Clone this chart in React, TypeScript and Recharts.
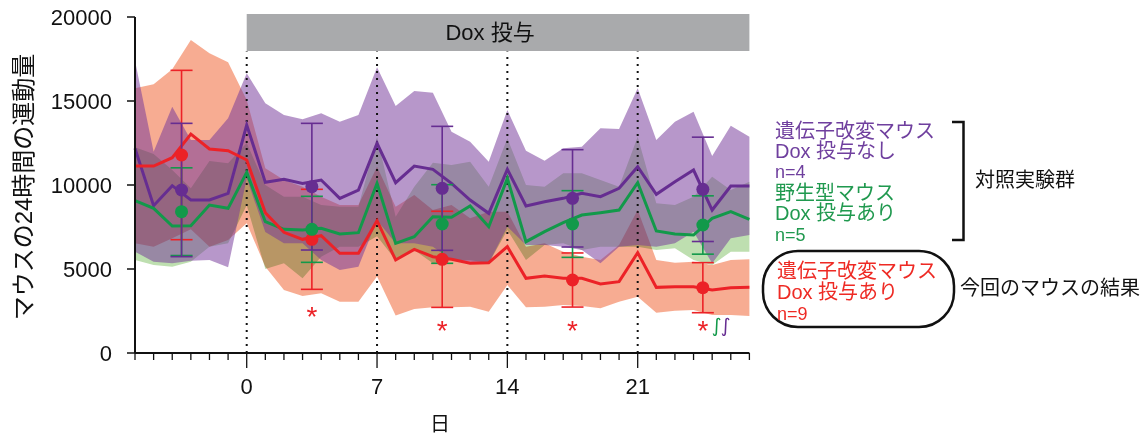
import React from 'react';
import {
  ComposedChart, Area, Line, Scatter, XAxis, YAxis, ErrorBar,
  ReferenceArea, ReferenceLine,
} from 'recharts';

// ---------- data ----------
const days = [-6, -5, -4, -3, -2, -1, 0, 1, 2, 3, 4, 5, 6, 7, 8, 9, 10, 11, 12, 13, 14, 15, 16, 17, 18, 19, 20, 21, 22, 23, 24, 25, 26, 27];

// 遺伝子改変マウス Dox 投与なし (purple)
const purpleMean = [12182, 8769, 9960, 9107, 9107, 9504, 13570, 10158, 10336, 10098, 10297, 9206, 9702, 12479, 10138, 11130, 10932, 10098, 9107, 8313, 10932, 8750, 9008, 9206, 9504, 9305, 9801, 11090, 9444, 10198, 10892, 8511, 9940, 9940];
const purpleHigh = [17400, 11984, 14662, 12678, 12678, 13967, 16646, 14860, 14166, 13908, 14265, 13769, 14166, 17003, 14702, 15595, 15495, 13174, 12579, 11388, 14463, 12043, 11448, 12182, 12281, 13372, 13332, 15753, 12678, 13769, 14364, 11726, 13531, 12876];
const purpleLow = [6032, 5435, 5337, 5495, 5535, 5099, 10396, 7200, 6527, 6527, 5535, 4940, 5139, 7900, 6527, 6527, 6329, 5535, 5435, 5337, 7520, 6428, 6428, 6329, 6131, 5337, 6329, 6427, 6329, 6527, 7222, 5337, 6825, 7024];

// 野生型マウス Dox 投与あり (green)
const greenMean = [9067, 8611, 7559, 7579, 8809, 8611, 10753, 7817, 7361, 7321, 7420, 7083, 7162, 10098, 6527, 6924, 8114, 8075, 8750, 7519, 10396, 6626, 7222, 7757, 8214, 8353, 8512, 10138, 7262, 7083, 7024, 8015, 8412, 7956];
const greenHigh = [12241, 11844, 10892, 9801, 11428, 11289, 12500, 10000, 9305, 9305, 8809, 8710, 8710, 12876, 8114, 9900, 11329, 11190, 11388, 9900, 12777, 9999, 9900, 10694, 10694, 10297, 9900, 12876, 8909, 8809, 9305, 10495, 9702, 10198];
const greenLow = [5535, 5237, 5139, 5436, 6329, 6527, 8800, 5000, 5337, 4444, 5733, 6329, 6329, 6950, 5535, 6131, 5337, 5535, 5535, 5337, 7321, 5535, 6428, 6527, 6131, 6329, 6329, 6329, 6131, 6230, 5535, 5237, 6032, 6032];

// 遺伝子改変マウス Dox 投与あり (red)
const redMean = [11130, 11130, 11626, 13035, 12142, 12043, 11487, 8353, 7182, 6766, 6984, 5932, 5932, 7877, 5535, 6170, 5733, 5575, 5337, 5376, 6329, 4444, 4583, 4444, 4444, 4107, 4246, 5972, 3908, 3948, 3948, 3750, 3888, 3908];
const redHigh = [15753, 15991, 16884, 18630, 17836, 17300, 15059, 11000, 10297, 9900, 9305, 8809, 8809, 11090, 8710, 9404, 8512, 8809, 8015, 8412, 8412, 6329, 6527, 6032, 5733, 5535, 6428, 8512, 5535, 5376, 5436, 5237, 5535, 5575];
const redLow = [6527, 6329, 6825, 7361, 6329, 6726, 7718, 5140, 3750, 3400, 3551, 3054, 3054, 4550, 2230, 2620, 2730, 2718, 2758, 2460, 4047, 2718, 2758, 2857, 2797, 2658, 3054, 3353, 2400, 2519, 2559, 2262, 2262, 2202];

// weekly means with error bars
const weekX = [-3.5, 3.5, 10.5, 17.5, 24.5];
const purpleWeekMean = [9702, 9900, 9801, 9206, 9742];
const purpleWeekErr = [3968, 3770, 3690, 2897, 3105];
const greenWeekMean = [8412, 7361, 7678, 7678, 7619];
const greenWeekErr = [2610, 1965, 2340, 1985, 1736];
const redWeekMean = [11785, 6766, 5575, 4345, 3888];
const redWeekErr = [5040, 2977, 2860, 1610, 1490];

// significance marks
const sigX = [3.5, 10.5, 17.5, 24.5];
const sigY = [2560, 1700, 1700, 1700];
const sig2X = [24.5];
const sig2Y = [1700];

const yTicks = [0, 5000, 10000, 15000, 20000];
const xLabeledDays = [0, 7, 14, 21];
const doseLines = [0, 7, 14, 21];

// ---------- styling ----------
const FONT = "'Liberation Sans', 'Noto Sans CJK JP', Arial, sans-serif";
const PURPLE = '#662d91';
const GREEN = '#12994a';
const RED = '#ec2227';
const PURPLE_TXT = '#6f3f9e';
const GREEN_TXT = '#20994f';
const RED_TXT = '#ee2a24';

const rows = days.map((d, i) => ({
  day: d,
  pBand: [purpleLow[i], purpleHigh[i]],
  gBand: [greenLow[i], greenHigh[i]],
  rBand: [redLow[i], redHigh[i]],
  pMean: purpleMean[i],
  gMean: greenMean[i],
  rMean: redMean[i],
}));

const mk = (m: number[], e: number[]) => weekX.map((x, i) => ({ day: x, y: m[i], err: e[i] }));
const purpleWeek = mk(purpleWeekMean, purpleWeekErr);
const greenWeek = mk(greenWeekMean, greenWeekErr);
const redWeek = mk(redWeekMean, redWeekErr);
const sigData = sigX.map((x, i) => ({ day: x, y: sigY[i] }));
const sig2Data = sig2X.map((x, i) => ({ day: x, y: sig2Y[i] }));

const dotShape = (color: string) => (p: any) => (
  <circle cx={p.cx} cy={p.cy} r={6.5} fill={color} />
);

const StarShape = (p: any) => (
  <text x={p.cx} y={p.cy + 16} textAnchor="middle" fontSize={28} fill={RED} fontFamily={FONT}>*</text>
);

const IntegralShape = (p: any) => (
  <text x={p.cx + 9} y={p.cy + 8} textAnchor="start" fontFamily="'DejaVu Sans', sans-serif" fontSize={19}>
    <tspan fill={GREEN}>∫</tspan>
    <tspan fill={PURPLE} dx={-1}>∫</tspan>
  </text>
);

const XTick = (props: any) => {
  const { x, y, payload } = props;
  const v = payload.value;
  const big = xLabeledDays.includes(v);
  return (
    <g>
      <line x1={x} x2={x} y1={y} y2={y + (big ? 15 : 7)} stroke="#111" strokeWidth={1.3} />
      {big && (
        <text x={x} y={y + 41} textAnchor="middle" fontSize={22} fill="#111" fontFamily={FONT}>{v}</text>
      )}
    </g>
  );
};

export default function App() {
  return (
    <div style={{ position: 'relative', width: 1145, height: 437, background: '#fff' }}>
      <style>{`body{margin:0;} .band-g path{mix-blend-mode:multiply;}`}</style>
      <ComposedChart
        width={1145}
        height={437}
        data={rows}
        margin={{ top: 17, right: 395.6, left: 75, bottom: 54 }}
      >
        <XAxis
          dataKey="day"
          type="number"
          domain={[-6, 27]}
          ticks={days}
          interval={0}
          tick={<XTick />}
          tickLine={false}
          tickSize={0}
          tickMargin={0}
          height={30}
          axisLine={{ stroke: '#111', strokeWidth: 2 }}
        />
        <YAxis
          type="number"
          domain={[0, 20000]}
          ticks={yTicks}
          width={60}
          tickSize={8}
          tickMargin={15}
          interval={0}
          tick={{ fontSize: 22, fill: '#111', fontFamily: FONT }}
          tickLine={{ stroke: '#111', strokeWidth: 1.5 }}
          axisLine={{ stroke: '#111', strokeWidth: 2 }}
        />

        <Area dataKey="rBand" type="linear" stroke="none" fill="#f4906e" fillOpacity={0.75}
          isAnimationActive={false} dot={false} activeDot={false} className="band-r" />
        <Area dataKey="gBand" type="linear" stroke="none" fill="#bedfb0" fillOpacity={1}
          isAnimationActive={false} dot={false} activeDot={false} className="band-g" />
        <Area dataKey="pBand" type="linear" stroke="none" fill="#74389a" fillOpacity={0.52}
          isAnimationActive={false} dot={false} activeDot={false} className="band-p" />

        {doseLines.map((d) => (
          <ReferenceLine key={d} segment={[{ x: d, y: 0 }, { x: d, y: 17950 }]}
            stroke="#111" strokeWidth={2} strokeDasharray="2 5" ifOverflow="visible" />
        ))}

        <ReferenceArea x1={0} x2={27} y1={17976} y2={20180} fill="#a9aaac" fillOpacity={1}
          stroke="none" ifOverflow="visible"
          label={{ value: 'Dox 投与', position: 'center', fill: '#111', fontSize: 22, fontFamily: FONT, dx: -8 }} />

        <Line dataKey="pMean" type="linear" stroke={PURPLE} strokeWidth={3} dot={false} activeDot={false} isAnimationActive={false} />
        <Line dataKey="gMean" type="linear" stroke={GREEN} strokeWidth={3} dot={false} activeDot={false} isAnimationActive={false} />
        <Line dataKey="rMean" type="linear" stroke={RED} strokeWidth={3} dot={false} activeDot={false} isAnimationActive={false} />

        <Scatter data={redWeek} dataKey="y" shape={dotShape(RED)} isAnimationActive={false}>
          <ErrorBar dataKey="err" direction="y" width={11} stroke={RED} strokeWidth={1.6} />
        </Scatter>
        <Scatter data={greenWeek} dataKey="y" shape={dotShape(GREEN)} isAnimationActive={false}>
          <ErrorBar dataKey="err" direction="y" width={11} stroke={GREEN} strokeWidth={1.6} />
        </Scatter>
        <Scatter data={purpleWeek} dataKey="y" shape={dotShape(PURPLE)} isAnimationActive={false}>
          <ErrorBar dataKey="err" direction="y" width={11} stroke={PURPLE} strokeWidth={1.6} />
        </Scatter>

        <Scatter data={sigData} dataKey="y" shape={StarShape} isAnimationActive={false} />
        <Scatter data={sig2Data} dataKey="y" shape={IntegralShape} isAnimationActive={false} />
      </ComposedChart>

      <svg width={1145} height={437} style={{ position: 'absolute', left: 0, top: 0, pointerEvents: 'none' }}
        fontFamily={FONT}>
        <text transform="translate(23,187) rotate(-90)" textAnchor="middle" dominantBaseline="central"
          fontSize={24} fill="#111">マウスの24時間の運動量</text>
        <text x={440} y={431} textAnchor="middle" fontSize={20} fill="#111">日</text>

        <g fontSize={20} fill={PURPLE_TXT}>
          <text x={775} y={138}>遺伝子改変マウス</text>
          <text x={775} y={158}>Dox 投与なし</text>
          <text x={775} y={178} fontSize={18}>n=4</text>
        </g>
        <g fontSize={20} fill={GREEN_TXT}>
          <text x={775} y={200}>野生型マウス</text>
          <text x={775} y={220}>Dox 投与あり</text>
          <text x={775} y={241} fontSize={18}>n=5</text>
        </g>
        <path d="M952,122 H963.5 V240 H952" fill="none" stroke="#111" strokeWidth={2.5} />
        <text x={975} y={187} fontSize={20} fill="#111">対照実験群</text>

        <rect x={763} y={251} width={191} height={76} rx={35} ry={35} fill="none" stroke="#111" strokeWidth={2.5} />
        <g fontSize={20} fill={RED_TXT}>
          <text x={777} y={278}>遺伝子改変マウス</text>
          <text x={777} y={299}>Dox 投与あり</text>
          <text x={777} y={320} fontSize={18}>n=9</text>
        </g>
        <text x={960} y={295} fontSize={20} fill="#111">今回のマウスの結果</text>
      </svg>
    </div>
  );
}
